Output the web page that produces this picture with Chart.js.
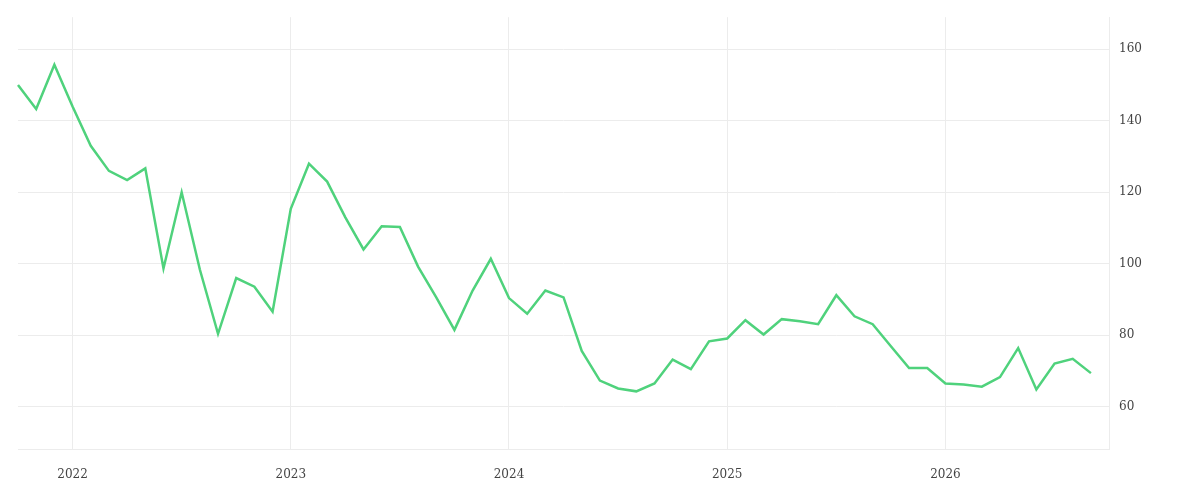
<!DOCTYPE html>
<html><head><meta charset="utf-8">
<script src="https://cdn.jsdelivr.net/npm/chart.js@4"></script>
<style>html,body{margin:0;background:#fff}#w{width:1200px;height:500px}</style>
</head><body><div id="w"><canvas id="c"></canvas></div>
<script>
const startYear = 2021, startMonth = 9; // Oct 2021 (0-based month)
const values = [150,143.3,155.7,144,133,126,123.4,126.7,98.7,120,98.4,80.4,96,93.6,86.6,115.4,128,123,113,104,110.5,110.3,99.2,90.6,81.5,92.5,101.4,90.4,86,92.5,90.6,75.6,67.3,65.1,64.3,66.5,73.2,70.5,78.3,79.1,84.2,80.2,84.5,83.9,83.1,91.2,85.3,83.1,76.9,70.8,70.8,66.5,66.2,65.6,68.3,76.4,64.8,72.1,73.4,69.4];
const labels = [];
for (let i = 0; i <= values.length; i++) {
  const m = startMonth + i;
  labels.push({y: startYear + Math.floor(m / 12), m: m % 12});
}
const labelText = labels.map(l => l.y + '-' + (l.m + 1));
const font = {family: 'DejaVu Serif', size: 12};
new Chart(document.getElementById('c'), {
  type: 'line',
  data: {labels: labelText, datasets: [{data: values, borderColor: '#4fd27c', borderWidth: 2.5, pointRadius: 0, tension: 0, fill: false}]},
  options: {
    responsive: true, maintainAspectRatio: false, animation: false,
    layout: {padding: {top: 12, left: 16, right: 48, bottom: 0}},
    plugins: {legend: {display: false}, tooltip: {enabled: false}},
    scales: {
      x: {
        offset: false,
        grid: {color: ctx => (ctx.tick && labels[ctx.index] && labels[ctx.index].m === 0) ? '#ececec' : 'rgba(0,0,0,0)', drawTicks: false},
        border: {color: '#ececec'},
        ticks: {autoSkip: false, maxRotation: 0, font, color: '#444', padding: 18,
          callback: (v, i) => labels[i].m === 0 ? String(labels[i].y) : ''}
      },
      y: {
        position: 'right', min: 48, max: 169,
        grid: {color: ctx => (ctx.tick && ctx.tick.value % 20 === 0) ? '#ececec' : 'rgba(0,0,0,0)', drawTicks: false},
        border: {color: '#ececec'},
        ticks: {stepSize: 20, font, color: '#444', padding: 10,
          callback: v => (v % 20 === 0 ? v : '')}
      }
    }
  }
});
</script></body></html>
